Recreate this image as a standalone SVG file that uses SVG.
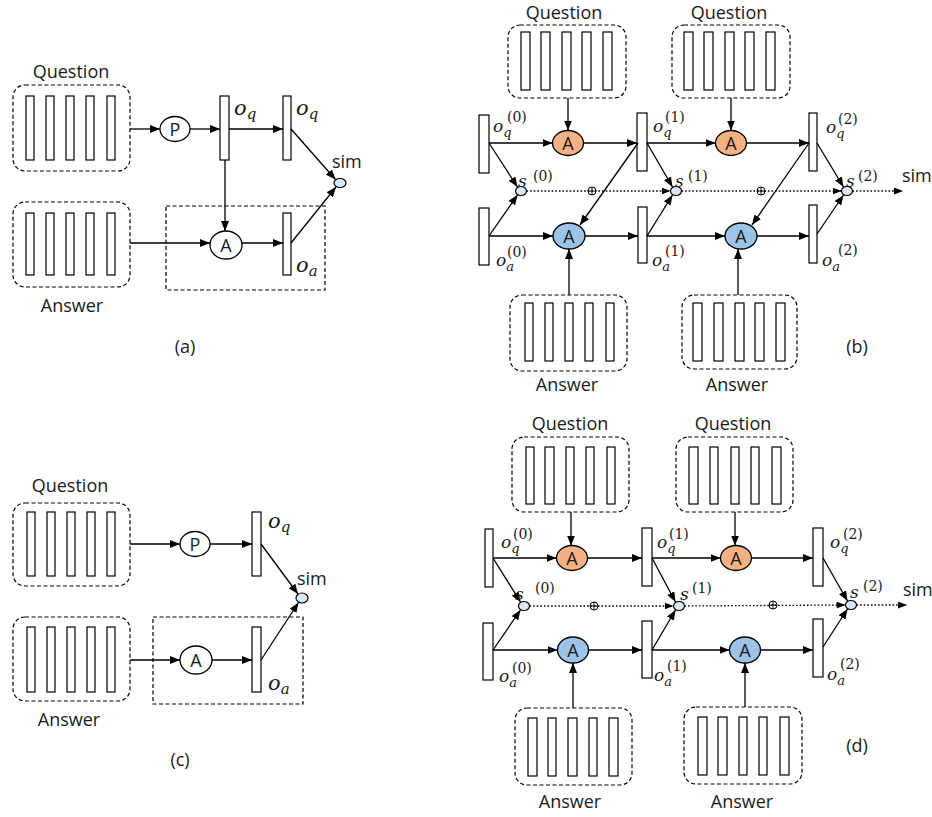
<svg xmlns="http://www.w3.org/2000/svg" width="932" height="817" viewBox="0 0 932 817">
<defs>
<marker id="ah" viewBox="0 0 10 8" refX="10" refY="4" markerWidth="10" markerHeight="8" markerUnits="userSpaceOnUse" orient="auto"><path d="M0,0 L10,4 L0,8 z" fill="#000"/></marker>
<marker id="ahd" viewBox="0 0 9 7" refX="9" refY="3.5" markerWidth="9" markerHeight="7" markerUnits="userSpaceOnUse" orient="auto"><path d="M0,0 L9,3.5 L0,7 z" fill="#000"/></marker>
</defs>
<style>
.box{fill:none;stroke:#000;stroke-width:1.2;stroke-dasharray:4 2.5}
.bar{fill:#fff;stroke:#000;stroke-width:1.2}
.e{stroke:#000;stroke-width:1.3;fill:none;marker-end:url(#ah)}
.dt{stroke:#000;stroke-width:1.3;fill:none;stroke-dasharray:1.6 2;marker-end:url(#ahd)}
.t{font-family:"Open Sans",sans-serif;font-size:18px;fill:#1a1a1a}
.tc{text-anchor:middle}
.op{fill:#fff;stroke:#000;stroke-width:1.3}
.or{fill:#f4b183;stroke:#000;stroke-width:1.3}
.bl{fill:#9dc3e6;stroke:#000;stroke-width:1.3}
.sc{fill:#dae8f6;stroke:#000;stroke-width:1.2}
.m{font-family:"DejaVu Serif",serif;font-style:italic;fill:#1a1a1a}
.sp{font-family:"DejaVu Serif",serif;font-size:14px;fill:#1a1a1a}
.pl{fill:#fff;stroke:#000;stroke-width:1}
</style>

<!-- ===== Panel (a) ===== -->
<g id="a-question">
<text class="t tc" x="71" y="78">Question</text>
<rect class="box" x="13" y="85" width="117" height="86" rx="12"/>
<rect class="bar" x="26" y="96" width="8" height="64"/><rect class="bar" x="46" y="96" width="8" height="64"/><rect class="bar" x="66" y="96" width="8" height="64"/><rect class="bar" x="86" y="96" width="8" height="64"/><rect class="bar" x="107" y="96" width="8" height="64"/>
</g>
<g id="a-answer">
<rect class="box" x="13" y="202" width="117" height="85" rx="12"/>
<rect class="bar" x="26" y="213" width="8" height="62"/><rect class="bar" x="46" y="213" width="8" height="62"/><rect class="bar" x="66" y="213" width="8" height="62"/><rect class="bar" x="86" y="213" width="8" height="62"/><rect class="bar" x="107" y="213" width="8" height="62"/>
<text class="t tc" x="72" y="312">Answer</text>
</g>
<g id="a-P"><ellipse class="op" cx="175" cy="129" rx="15" ry="12.5"/><text class="t tc" x="175" y="135.5">P</text></g>
<g id="a-oq1"><rect class="bar" x="220" y="96" width="9" height="64"/><text class="m" x="234" y="115" font-size="21">o<tspan font-size="15" dy="4">q</tspan></text></g>
<g id="a-oq2"><rect class="bar" x="283" y="96" width="8" height="64"/><text class="m" x="296" y="115" font-size="21">o<tspan font-size="15" dy="4">q</tspan></text></g>
<g id="a-A"><ellipse class="op" cx="226" cy="245" rx="16" ry="14"/><text class="t tc" x="226" y="251.5">A</text></g>
<g id="a-oa"><rect class="bar" x="283" y="213" width="8" height="62"/><text class="m" x="296" y="272" font-size="21">o<tspan font-size="15" dy="4">a</tspan></text></g>
<g id="a-sim"><ellipse class="sc" cx="340" cy="183" rx="6" ry="4.5"/><text class="t" x="332" y="168" font-size="16">sim</text></g>
<g id="a-frame"><rect class="box" x="166" y="206" width="159" height="84"/></g>
<text class="t tc" x="185" y="353">(a)</text>

<!-- ===== Panel (c) ===== -->
<g id="c-question">
<text class="t tc" x="70" y="492">Question</text>
<rect class="box" x="13" y="503" width="117" height="83" rx="12"/>
<rect class="bar" x="27" y="512" width="8" height="64"/><rect class="bar" x="47" y="512" width="8" height="64"/><rect class="bar" x="67" y="512" width="8" height="64"/><rect class="bar" x="87" y="512" width="8" height="64"/><rect class="bar" x="107" y="512" width="8" height="64"/>
</g>
<g id="c-answer">
<rect class="box" x="13" y="617" width="117" height="84" rx="12"/>
<rect class="bar" x="27" y="627" width="8" height="65"/><rect class="bar" x="47" y="627" width="8" height="65"/><rect class="bar" x="67" y="627" width="8" height="65"/><rect class="bar" x="87" y="627" width="8" height="65"/><rect class="bar" x="107" y="627" width="8" height="65"/>
<text class="t tc" x="69" y="726">Answer</text>
</g>
<g id="c-P"><ellipse class="op" cx="195" cy="544" rx="15" ry="12.5"/><text class="t tc" x="195" y="550.5">P</text></g>
<g id="c-oq"><rect class="bar" x="252" y="512" width="9" height="64"/><text class="m" x="268" y="528" font-size="21">o<tspan font-size="15" dy="4">q</tspan></text></g>
<g id="c-A"><ellipse class="op" cx="196" cy="660" rx="16" ry="14"/><text class="t tc" x="196" y="666.5">A</text></g>
<g id="c-oa"><rect class="bar" x="252" y="627" width="9" height="65"/><text class="m" x="268" y="690" font-size="21">o<tspan font-size="15" dy="4">a</tspan></text></g>
<g id="c-sim"><ellipse class="sc" cx="302" cy="598" rx="6" ry="5"/><text class="t" x="297" y="585" font-size="16">sim</text></g>
<g id="c-frame"><rect class="box" x="153" y="617" width="150" height="87"/></g>
<text class="t tc" x="180" y="766">(c)</text>

<!-- ===== Panel (b) ===== -->
<g id="b-question1">
<text class="t tc" x="564" y="19">Question</text>
<rect class="box" x="508" y="25" width="118" height="73" rx="12"/>
<rect class="bar" x="521" y="32" width="9" height="58"/><rect class="bar" x="541" y="32" width="9" height="58"/><rect class="bar" x="562" y="32" width="9" height="58"/><rect class="bar" x="582" y="32" width="9" height="58"/><rect class="bar" x="603" y="32" width="9" height="58"/>
</g>
<g id="b-question2">
<text class="t tc" x="729" y="19">Question</text>
<rect class="box" x="672" y="25" width="118" height="73" rx="12"/>
<rect class="bar" x="684" y="32" width="9" height="58"/><rect class="bar" x="704" y="32" width="9" height="58"/><rect class="bar" x="725" y="32" width="9" height="58"/><rect class="bar" x="745" y="32" width="9" height="58"/><rect class="bar" x="766" y="32" width="9" height="58"/>
</g>
<g id="b-answer1">
<rect class="box" x="510" y="295" width="117" height="76" rx="12"/>
<rect class="bar" x="525" y="303" width="8" height="58"/><rect class="bar" x="545" y="303" width="8" height="58"/><rect class="bar" x="565" y="303" width="8" height="58"/><rect class="bar" x="585" y="303" width="8" height="58"/><rect class="bar" x="606" y="303" width="8" height="58"/>
<text class="t tc" x="567" y="391">Answer</text>
</g>
<g id="b-answer2">
<rect class="box" x="682" y="295" width="115" height="74" rx="12"/>
<rect class="bar" x="693" y="303" width="9" height="58"/><rect class="bar" x="714" y="303" width="9" height="58"/><rect class="bar" x="735" y="303" width="9" height="58"/><rect class="bar" x="755" y="303" width="9" height="58"/><rect class="bar" x="776" y="303" width="9" height="58"/>
<text class="t tc" x="737" y="391">Answer</text>
</g>
<g id="b-oq0"><rect class="bar" x="479" y="115" width="10" height="58"/><text class="m" x="493" y="132" font-size="17">o<tspan font-size="13" dy="5">q</tspan></text><text class="sp" x="507" y="122">(0)</text></g>
<g id="b-oq1"><rect class="bar" x="637" y="113" width="10" height="58"/><text class="m" x="653" y="132" font-size="17">o<tspan font-size="13" dy="5">q</tspan></text><text class="sp" x="665" y="122">(1)</text></g>
<g id="b-oq2"><rect class="bar" x="809" y="113" width="8" height="58"/><text class="m" x="826" y="133" font-size="17">o<tspan font-size="13" dy="5">q</tspan></text><text class="sp" x="838" y="124">(2)</text></g>
<g id="b-oa0"><rect class="bar" x="479" y="208" width="10" height="57"/><text class="m" x="496" y="266" font-size="17">o<tspan font-size="13" dy="5">a</tspan></text><text class="sp" x="507" y="257">(0)</text></g>
<g id="b-oa1"><rect class="bar" x="638" y="207" width="9" height="56"/><text class="m" x="652" y="266" font-size="17">o<tspan font-size="13" dy="5">a</tspan></text><text class="sp" x="665" y="256">(1)</text></g>
<g id="b-oa2"><rect class="bar" x="809" y="205" width="8" height="58"/><text class="m" x="822" y="266" font-size="17">o<tspan font-size="13" dy="5">a</tspan></text><text class="sp" x="838" y="255">(2)</text></g>
<g id="b-Aq1"><ellipse class="or" cx="568" cy="143" rx="15.5" ry="12.5"/><text class="t tc" x="568" y="149.5">A</text></g>
<g id="b-Aq2"><ellipse class="or" cx="731" cy="143" rx="15.5" ry="12.5"/><text class="t tc" x="731" y="149.5">A</text></g>
<g id="b-Aa1"><ellipse class="bl" cx="569" cy="236" rx="16" ry="13"/><text class="t tc" x="569" y="242.5">A</text></g>
<g id="b-Aa2"><ellipse class="bl" cx="741" cy="236" rx="16" ry="13"/><text class="t tc" x="741" y="242.5">A</text></g>
<g id="b-s0"><ellipse class="sc" cx="521" cy="191" rx="5.5" ry="4.5"/><text class="m" x="518" y="187" font-size="17">s</text><text class="sp" x="533" y="181">(0)</text></g>
<g id="b-s1"><ellipse class="sc" cx="676" cy="191" rx="5.5" ry="4.5"/><text class="m" x="675" y="187" font-size="17">s</text><text class="sp" x="688" y="181">(1)</text></g>
<g id="b-s2"><ellipse class="sc" cx="847" cy="191" rx="5.5" ry="4.5"/><text class="m" x="846" y="187" font-size="17">s</text><text class="sp" x="858" y="181">(2)</text></g>
<g id="b-plus1"><circle class="pl" cx="592" cy="191" r="4"/><path d="M588,191 H596 M592,187 V195" stroke="#000" stroke-width="0.9"/></g>
<g id="b-plus2"><circle class="pl" cx="761" cy="191" r="4"/><path d="M757,191 H765 M761,187 V195" stroke="#000" stroke-width="0.9"/></g>
<text class="t" x="902" y="182" font-size="16">sim</text>
<text class="t tc" x="857" y="353">(b)</text>

<!-- ===== Panel (d) ===== -->
<g id="d-question1">
<text class="t tc" x="570" y="430">Question</text>
<rect class="box" x="512" y="437" width="117" height="75" rx="12"/>
<rect class="bar" x="526" y="447" width="8" height="57"/><rect class="bar" x="545" y="447" width="9" height="57"/><rect class="bar" x="566" y="447" width="8" height="57"/><rect class="bar" x="586" y="447" width="8" height="57"/><rect class="bar" x="607" y="447" width="8" height="57"/>
</g>
<g id="d-question2">
<text class="t tc" x="733" y="430">Question</text>
<rect class="box" x="676" y="437" width="117" height="75" rx="12"/>
<rect class="bar" x="689" y="447" width="9" height="57"/><rect class="bar" x="710" y="447" width="8" height="57"/><rect class="bar" x="731" y="447" width="8" height="57"/><rect class="bar" x="751" y="447" width="8" height="57"/><rect class="bar" x="772" y="447" width="9" height="57"/>
</g>
<g id="d-answer1">
<rect class="box" x="515" y="708" width="117" height="77" rx="12"/>
<rect class="bar" x="528" y="718" width="9" height="58"/><rect class="bar" x="548" y="718" width="8" height="58"/><rect class="bar" x="568" y="718" width="9" height="58"/><rect class="bar" x="589" y="718" width="8" height="58"/><rect class="bar" x="609" y="718" width="9" height="58"/>
<text class="t tc" x="570" y="808">Answer</text>
</g>
<g id="d-answer2">
<rect class="box" x="684" y="707" width="118" height="77" rx="12"/>
<rect class="bar" x="698" y="717" width="9" height="58"/><rect class="bar" x="718" y="717" width="9" height="58"/><rect class="bar" x="739" y="717" width="8" height="58"/><rect class="bar" x="759" y="717" width="8" height="58"/><rect class="bar" x="780" y="717" width="9" height="58"/>
<text class="t tc" x="742" y="808">Answer</text>
</g>
<g id="d-oq0"><rect class="bar" x="485" y="529" width="8" height="58"/><text class="m" x="501" y="548" font-size="17">o<tspan font-size="13" dy="5">q</tspan></text><text class="sp" x="513" y="539">(0)</text></g>
<g id="d-oq1"><rect class="bar" x="642" y="528" width="10" height="58"/><text class="m" x="657" y="548" font-size="17">o<tspan font-size="13" dy="5">q</tspan></text><text class="sp" x="669" y="539">(1)</text></g>
<g id="d-oq2"><rect class="bar" x="813" y="528" width="10" height="58"/><text class="m" x="830" y="548" font-size="17">o<tspan font-size="13" dy="5">q</tspan></text><text class="sp" x="843" y="539">(2)</text></g>
<g id="d-oa0"><rect class="bar" x="483" y="623" width="10" height="57"/><text class="m" x="499" y="682" font-size="17">o<tspan font-size="13" dy="5">a</tspan></text><text class="sp" x="512" y="673">(0)</text></g>
<g id="d-oa1"><rect class="bar" x="642" y="621" width="10" height="57"/><text class="m" x="654" y="681" font-size="17">o<tspan font-size="13" dy="5">a</tspan></text><text class="sp" x="667" y="671">(1)</text></g>
<g id="d-oa2"><rect class="bar" x="813" y="619" width="10" height="58"/><text class="m" x="827" y="680" font-size="17">o<tspan font-size="13" dy="5">a</tspan></text><text class="sp" x="840" y="669">(2)</text></g>
<g id="d-Aq1"><ellipse class="or" cx="572" cy="558" rx="15.5" ry="12.5"/><text class="t tc" x="572" y="564.5">A</text></g>
<g id="d-Aq2"><ellipse class="or" cx="736" cy="558" rx="15.5" ry="12.5"/><text class="t tc" x="736" y="564.5">A</text></g>
<g id="d-Aa1"><ellipse class="bl" cx="573" cy="650" rx="15.5" ry="13"/><text class="t tc" x="573" y="656.5">A</text></g>
<g id="d-Aa2"><ellipse class="bl" cx="745" cy="650" rx="15.5" ry="13"/><text class="t tc" x="745" y="656.5">A</text></g>
<g id="d-s0"><ellipse class="sc" cx="524" cy="606" rx="5.5" ry="4.5"/><text class="m" x="515" y="600" font-size="17">s</text><text class="sp" x="535" y="593">(0)</text></g>
<g id="d-s1"><ellipse class="sc" cx="679" cy="606" rx="5.5" ry="4.5"/><text class="m" x="680" y="600" font-size="17">s</text><text class="sp" x="692" y="593">(1)</text></g>
<g id="d-s2"><ellipse class="sc" cx="851" cy="605" rx="5.5" ry="4.5"/><text class="m" x="850" y="598" font-size="17">s</text><text class="sp" x="863" y="591">(2)</text></g>
<g id="d-plus1"><circle class="pl" cx="594" cy="606" r="4"/><path d="M590,606 H598 M594,602 V610" stroke="#000" stroke-width="0.9"/></g>
<g id="d-plus2"><circle class="pl" cx="773" cy="605" r="4"/><path d="M769,605 H777 M773,601 V609" stroke="#000" stroke-width="0.9"/></g>
<text class="t" x="903" y="596" font-size="15.5">sim</text>
<text class="t tc" x="857" y="752">(d)</text>

<!-- ===== Connectors ===== -->
<g id="connectors">
<!-- (a) -->
<line class="e" x1="130" y1="129" x2="160" y2="129"/>
<line class="e" x1="190" y1="129" x2="220" y2="129"/>
<line class="e" x1="229" y1="129" x2="283" y2="129"/>
<line class="e" x1="291" y1="129" x2="335.5" y2="179.5"/>
<line class="e" x1="225" y1="160" x2="225" y2="231"/>
<line class="e" x1="130" y1="243" x2="210" y2="243"/>
<line class="e" x1="242" y1="243" x2="283" y2="243"/>
<line class="e" x1="291" y1="243" x2="336" y2="187"/>
<!-- (c) -->
<line class="e" x1="130" y1="544" x2="180" y2="544"/>
<line class="e" x1="210" y1="544" x2="252" y2="544"/>
<line class="e" x1="261" y1="544" x2="298" y2="594"/>
<line class="e" x1="130" y1="660" x2="180" y2="660"/>
<line class="e" x1="212" y1="660" x2="252" y2="660"/>
<line class="e" x1="261" y1="660" x2="298.5" y2="602.5"/>
<!-- (b) -->
<line class="e" x1="568" y1="98" x2="568" y2="130.5"/>
<line class="e" x1="731" y1="98" x2="731" y2="130.5"/>
<line class="e" x1="489" y1="143" x2="552.5" y2="143"/>
<line class="e" x1="583.5" y1="143" x2="637" y2="143"/>
<line class="e" x1="647" y1="143" x2="715.5" y2="143"/>
<line class="e" x1="746.5" y1="143" x2="809" y2="143"/>
<line class="e" x1="489" y1="236" x2="553" y2="236"/>
<line class="e" x1="585" y1="236" x2="638" y2="236"/>
<line class="e" x1="647" y1="236" x2="725" y2="236"/>
<line class="e" x1="757" y1="236" x2="809" y2="236"/>
<line class="e" x1="638" y1="143" x2="580" y2="225"/>
<line class="e" x1="809" y1="143" x2="752" y2="225"/>
<line class="e" x1="489" y1="143" x2="517.5" y2="187"/>
<line class="e" x1="489" y1="236" x2="517.5" y2="195"/>
<line class="e" x1="647" y1="143" x2="672.5" y2="187"/>
<line class="e" x1="647" y1="236" x2="672.5" y2="195"/>
<line class="e" x1="817" y1="143" x2="843.5" y2="187"/>
<line class="e" x1="817" y1="234" x2="843.5" y2="195"/>
<line class="e" x1="569" y1="295" x2="569" y2="249"/>
<line class="e" x1="738" y1="295" x2="738" y2="249"/>
<line class="dt" x1="526.5" y1="191" x2="670.5" y2="191"/>
<line class="dt" x1="681.5" y1="191" x2="841.5" y2="191"/>
<line class="dt" x1="852.5" y1="191" x2="903" y2="191"/>
<!-- (d) -->
<line class="e" x1="571" y1="512" x2="571" y2="545.5"/>
<line class="e" x1="735" y1="512" x2="735" y2="545.5"/>
<line class="e" x1="493" y1="558" x2="556.5" y2="558"/>
<line class="e" x1="587.5" y1="558" x2="642" y2="558"/>
<line class="e" x1="652" y1="558" x2="720.5" y2="558"/>
<line class="e" x1="751.5" y1="558" x2="813" y2="558"/>
<line class="e" x1="493" y1="650" x2="557.5" y2="650"/>
<line class="e" x1="588.5" y1="650" x2="642" y2="650"/>
<line class="e" x1="652" y1="650" x2="729.5" y2="650"/>
<line class="e" x1="760.5" y1="650" x2="813" y2="650"/>
<line class="e" x1="493" y1="558" x2="520.5" y2="602"/>
<line class="e" x1="493" y1="650" x2="520.5" y2="610"/>
<line class="e" x1="652" y1="558" x2="675.5" y2="602"/>
<line class="e" x1="652" y1="650" x2="675.5" y2="610"/>
<line class="e" x1="823" y1="558" x2="847.5" y2="601"/>
<line class="e" x1="823" y1="647" x2="847.5" y2="609"/>
<line class="e" x1="573" y1="708" x2="573" y2="663"/>
<line class="e" x1="745" y1="707" x2="745" y2="663"/>
<line class="dt" x1="529.5" y1="606" x2="673.5" y2="606"/>
<line class="dt" x1="684.5" y1="606" x2="845.5" y2="605"/>
<line class="dt" x1="856.5" y1="605" x2="907" y2="605"/>
</g>
</svg>
